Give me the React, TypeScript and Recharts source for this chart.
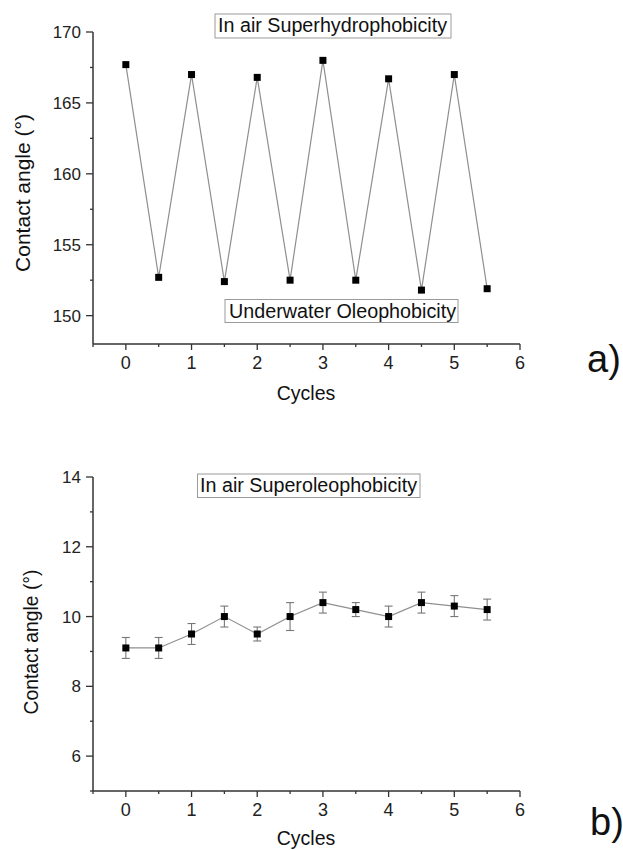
import { LineChart, Line, XAxis, YAxis, ErrorBar } from 'recharts';

// cycle positions (half cycles = underwater measurement)
const cycles = [0, 0.5, 1, 1.5, 2, 2.5, 3, 3.5, 4, 4.5, 5, 5.5];

// a) water contact angle in air / oil contact angle underwater
const wettingAngles = [167.7, 152.7, 167.0, 152.4, 166.8, 152.5, 168.0, 152.5, 166.7, 151.8, 167.0, 151.9];

// b) oil contact angle in air, with error
const oilAngles = [9.1, 9.1, 9.5, 10.0, 9.5, 10.0, 10.4, 10.2, 10.0, 10.4, 10.3, 10.2];
const oilErrors = [0.3, 0.3, 0.3, 0.3, 0.2, 0.4, 0.3, 0.2, 0.3, 0.3, 0.3, 0.3];

const xTicks = [-0.5, 0, 0.5, 1, 1.5, 2, 2.5, 3, 3.5, 4, 4.5, 5, 5.5, 6];
const yTicksA = [150, 152.5, 155, 157.5, 160, 162.5, 165, 167.5, 170];
const yTicksB = [5, 6, 7, 8, 9, 10, 11, 12, 13, 14];
const yMajorA = [150, 155, 160, 165, 170];
const yMajorB = [6, 8, 10, 12, 14];

const dataA = cycles.map((c, i) => ({ cycle: c, angle: wettingAngles[i] }));
const dataB = cycles.map((c, i) => ({ cycle: c, angle: oilAngles[i], err: oilErrors[i] }));

const FONT = '"Liberation Sans", Arial, sans-serif';
const AXIS = '#333';

const XTick = ({ x, y, payload }: any) => {
  const v = payload.value;
  const major = Number.isInteger(v) && v >= 0;
  return (
    <g>
      <line x1={x} x2={x} y1={y} y2={y + (major ? 6 : 3)} stroke={AXIS} strokeWidth={1.3} />
      {major && (
        <text x={x} y={y + 25} textAnchor="middle" fontSize={18} fill="#222" fontFamily={FONT}>
          {v}
        </text>
      )}
    </g>
  );
};

const makeYTick = (majors: number[]) => ({ x, y, payload }: any) => {
  const v = payload.value;
  const major = majors.includes(v);
  return (
    <g>
      <line x1={x} x2={x - (major ? 7 : 3)} y1={y} y2={y} stroke={AXIS} strokeWidth={1.3} />
      {major && (
        <text x={x - 12} y={y} dy="0.36em" textAnchor="end" fontSize={17} fill="#222" fontFamily={FONT}>
          {v}
        </text>
      )}
    </g>
  );
};

const SquareDot = (props: any) => {
  const { cx, cy, index } = props;
  return <rect key={index} x={cx - 3.5} y={cy - 3.5} width={7} height={7} fill="#000" />;
};

const axisLine = { stroke: AXIS, strokeWidth: 1.5 };

export default function App() {
  return (
    <div style={{ position: 'absolute', left: 0, top: 0, width: 623, height: 850, background: '#fff', fontFamily: FONT }}>
      <div style={{ position: 'absolute', left: 0, top: 0 }}>
        <LineChart width={623} height={430} data={dataA} margin={{ top: 32, right: 103, bottom: 56, left: 0 }}>
          <XAxis
            dataKey="cycle"
            type="number"
            domain={[-0.5, 6]}
            ticks={xTicks}
            interval={0}
            tickSize={0}
            tickMargin={0}
            tickLine={false}
            axisLine={axisLine}
            tick={<XTick />}
            height={30}
            allowDataOverflow
          />
          <YAxis
            type="number"
            domain={[148, 170]}
            ticks={yTicksA}
            interval={0}
            tickSize={0}
            tickMargin={0}
            tickLine={false}
            axisLine={axisLine}
            tick={makeYTick(yMajorA)}
            width={93}
            allowDataOverflow
          />
          <Line
            dataKey="angle"
            stroke="#8f8f8f"
            strokeWidth={1.2}
            dot={<SquareDot />}
            activeDot={false}
            isAnimationActive={false}
          />
        </LineChart>
      </div>
      <div style={{ position: 'absolute', left: 0, top: 450 }}>
        <LineChart width={623} height={400} data={dataB} margin={{ top: 27, right: 103, bottom: 29, left: 0 }}>
          <XAxis
            dataKey="cycle"
            type="number"
            domain={[-0.5, 6]}
            ticks={xTicks}
            interval={0}
            tickSize={0}
            tickMargin={0}
            tickLine={false}
            axisLine={axisLine}
            tick={<XTick />}
            height={30}
            allowDataOverflow
          />
          <YAxis
            type="number"
            domain={[5, 14]}
            ticks={yTicksB}
            interval={0}
            tickSize={0}
            tickMargin={0}
            tickLine={false}
            axisLine={axisLine}
            tick={makeYTick(yMajorB)}
            width={93}
            allowDataOverflow
          />
          <Line
            dataKey="angle"
            stroke="#8f8f8f"
            strokeWidth={1.2}
            dot={<SquareDot />}
            activeDot={false}
            isAnimationActive={false}
          >
            <ErrorBar dataKey="err" direction="y" width={4} stroke="#777" strokeWidth={1.1} />
          </Line>
        </LineChart>
      </div>
      <svg width={623} height={850} style={{ position: 'absolute', left: 0, top: 0, pointerEvents: 'none' }} fontFamily={FONT}>
        {/* annotation boxes */}
        <rect x={215} y={14} width={236} height={24} fill="none" stroke="#9a9a9a" strokeWidth={1} />
        <text x={218} y={32} fontSize={19.5} fill="#111" textLength={229} lengthAdjust="spacingAndGlyphs">
          In air Superhydrophobicity
        </text>
        <rect x={225} y={299.5} width={233} height={23} fill="none" stroke="#9a9a9a" strokeWidth={1} />
        <text x={229} y={318} fontSize={19.5} fill="#111" textLength={227} lengthAdjust="spacingAndGlyphs">
          Underwater Oleophobicity
        </text>
        <rect x={197.5} y={474} width={222.5} height={23.5} fill="none" stroke="#9a9a9a" strokeWidth={1} />
        <text x={200} y={492} fontSize={19.5} fill="#111" textLength={217} lengthAdjust="spacingAndGlyphs">
          In air Superoleophobicity
        </text>
        {/* axis titles */}
        <text x={306} y={400} fontSize={19.5} textAnchor="middle" fill="#111">Cycles</text>
        <text x={306} y={845} fontSize={19.5} textAnchor="middle" fill="#111">Cycles</text>
        <text x={0} y={0} fontSize={21} textAnchor="middle" fill="#111" transform="translate(30 193) rotate(-90)">
          Contact angle (°)
        </text>
        <text x={0} y={0} fontSize={19.3} textAnchor="middle" fill="#111" transform="translate(38 642) rotate(-90)">
          Contact angle (°)
        </text>
        {/* panel letters */}
        <text x={587} y={372} fontSize={38} fill="#111">a)</text>
        <text x={590} y={835} fontSize={38} fill="#111">b)</text>
      </svg>
    </div>
  );
}
